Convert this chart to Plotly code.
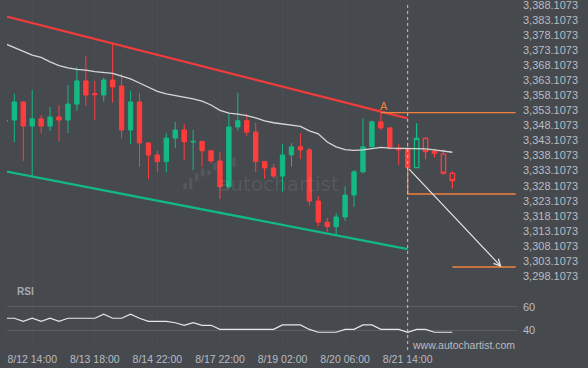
import plotly.graph_objects as go

# ---------------- data ----------------
idx = list(range(51))
opens = [3349.4, 3349.9, 3355.9, 3347.9, 3350.3, 3347.9, 3350.9, 3349.9, 3355.2, 3362.9,
         3358.7, 3358.2, 3363.2, 3361.2, 3346.6, 3355.9, 3342.3, 3338.3, 3336.1, 3343.9,
         3346.6, 3342.6, 3342.8, 3339.7, 3336.3, 3327.8, 3347.6, 3349.7, 3345.9, 3336.1,
         3334.0, 3331.3, 3338.3, 3341.0, 3340.0, 3323.0, 3316.0, 3314.5, 3317.7, 3325.0,
         3332.7, 3341.0, 3349.3, 3347.3, 3340.5, 3340.2, 3334.1, 3343.8, 3339.4, 3338.6,
         3332.2]
highs = [3350.1, 3358.6, 3356.2, 3359.9, 3351.6, 3354.2, 3354.9, 3361.5, 3367.5, 3371.2,
         3362.9, 3364.0, 3375.2, 3365.2, 3359.6, 3358.9, 3342.4, 3339.7, 3345.5, 3349.3,
         3348.6, 3346.6, 3343.0, 3339.8, 3339.3, 3352.1, 3359.0, 3351.9, 3349.0, 3336.2,
         3335.3, 3341.9, 3342.2, 3345.5, 3340.7, 3324.7, 3317.4, 3319.0, 3327.9, 3333.3,
         3350.5, 3349.7, 3352.3, 3347.4, 3341.9, 3342.4, 3348.8, 3344.3, 3340.4, 3340.3,
         3332.9]
lows = [3349.1, 3342.6, 3336.3, 3331.3, 3345.6, 3346.3, 3342.9, 3345.6, 3352.9, 3354.6,
        3349.9, 3356.0, 3355.7, 3343.7, 3341.9, 3334.4, 3330.3, 3332.6, 3332.6, 3340.5,
        3336.5, 3333.3, 3334.4, 3335.5, 3323.7, 3327.0, 3346.4, 3344.7, 3332.6, 3330.4,
        3330.5, 3326.1, 3334.4, 3336.9, 3321.4, 3314.7, 3312.8, 3311.7, 3316.4, 3321.1,
        3332.2, 3340.8, 3346.6, 3340.0, 3335.0, 3334.1, 3334.0, 3336.9, 3337.5, 3331.7,
        3327.2]
closes = [3349.8, 3355.9, 3347.9, 3350.3, 3347.9, 3350.9, 3349.9, 3355.2, 3362.9, 3358.2,
          3358.3, 3363.2, 3360.9, 3346.6, 3355.9, 3342.3, 3338.3, 3336.1, 3343.9, 3346.6,
          3342.7, 3342.8, 3339.7, 3336.3, 3327.8, 3347.6, 3349.7, 3345.9, 3336.1, 3334.0,
          3331.3, 3338.3, 3341.0, 3340.0, 3323.0, 3316.0, 3314.5, 3317.7, 3325.0, 3332.7,
          3341.0, 3349.3, 3347.3, 3340.7, 3340.0, 3334.1, 3343.8, 3339.4, 3338.9, 3332.3,
          3329.8]
ma = [3375.2, 3374.0, 3372.8, 3371.5, 3370.7, 3369.2, 3368.0, 3367.2, 3366.7, 3366.5,
      3366.0, 3365.6, 3365.4, 3364.5, 3363.6, 3362.2, 3360.7, 3359.4, 3358.6, 3358.1,
      3357.4, 3356.9, 3356.2, 3354.9, 3353.1, 3352.2, 3351.9, 3351.4, 3350.6, 3349.6,
      3349.0, 3348.6, 3348.3, 3347.8, 3346.3, 3345.3, 3342.6, 3341.0, 3340.1, 3339.8,
      3340.0, 3340.5, 3340.8, 3340.6, 3340.5, 3340.5, 3340.5, 3340.3, 3340.0, 3339.6,
      3339.2]
rsi = [50.2, 50.2, 47.6, 50.2, 47.6, 50.2, 47.6, 50.2, 50.2, 50.2,
       50.2, 53.6, 50.2, 50.2, 53.6, 50.2, 47.6, 47.6, 47.6, 46.4,
       44.2, 46.4, 44.2, 44.2, 40.8, 40.8, 40.8, 40.8, 40.8, 40.8,
       40.8, 44.5, 44.5, 44.5, 40.7, 38.3, 38.3, 38.3, 40.8, 40.8,
       44.5, 44.5, 40.8, 40.8, 40.8, 38.3, 40.8, 40.8, 38.3, 38.3,
       38.3]
split = 46  # candles from here on are drawn hollow (after the signal)

channel_x = [0, 45]
channel_upper = [3384.36, 3350.48]
channel_lower = [3332.85, 3307.07]

level_x_end = 57.08
level_a_x = 42
level_a = 3352.34
level_mid = 3325.34
level_target_x = 50
level_target = 3301.09
arrow_end_x = 55.5

tick_idx = [3, 10, 17, 24, 31, 38, 45]
tick_text = ["8/12 14:00", "8/13 18:00", "8/14 22:00", "8/17 22:00",
             "8/19 02:00", "8/20 06:00", "8/21 14:00"]
price_ticks = [3298.1073 + 5 * k for k in range(19)]
price_text = ["{:,.4f}".format(v) for v in price_ticks]
rsi_ticks = [40, 60]

# ---------------- style ----------------
BG = "#46494e"
GREEN = "#14b983"
RED = "#ff3d3d"
ORANGE = "#f2803f"
TXT = "#b9bcc1"
FONT = "Liberation Sans, Arial, sans-serif"

fig = go.Figure()

fig.add_trace(go.Candlestick(
    x=idx[:split], open=opens[:split], high=highs[:split], low=lows[:split], close=closes[:split],
    increasing=dict(line=dict(color=GREEN, width=1), fillcolor=GREEN),
    decreasing=dict(line=dict(color=RED, width=1), fillcolor=RED),
    xaxis="x", yaxis="y", showlegend=False, hoverinfo="skip"))

fig.add_trace(go.Candlestick(
    x=idx[split:], open=opens[split:], high=highs[split:], low=lows[split:], close=closes[split:],
    increasing=dict(line=dict(color=GREEN, width=1.3), fillcolor="rgba(0,0,0,0)"),
    decreasing=dict(line=dict(color=RED, width=1.3), fillcolor="rgba(0,0,0,0)"),
    xaxis="x", yaxis="y", showlegend=False, hoverinfo="skip"))

# moving average
fig.add_trace(go.Scatter(x=idx, y=ma, mode="lines", line=dict(color="#d6d6d6", width=1.3),
                         xaxis="x", yaxis="y", showlegend=False, hoverinfo="skip"))

# channel
fig.add_trace(go.Scatter(x=channel_x, y=channel_upper, mode="lines",
                         line=dict(color="#f23c3c", width=2.3), showlegend=False, hoverinfo="skip"))
fig.add_trace(go.Scatter(x=channel_x, y=channel_lower, mode="lines",
                         line=dict(color="#12b886", width=2.3), showlegend=False, hoverinfo="skip"))

# levels
fig.add_trace(go.Scatter(x=[level_a_x, level_x_end], y=[level_a, level_a], mode="lines",
                         line=dict(color=ORANGE, width=1.3), showlegend=False, hoverinfo="skip"))
fig.add_trace(go.Scatter(x=[45, 45, level_x_end], y=[closes[45], level_mid, level_mid], mode="lines",
                         line=dict(color=ORANGE, width=1.3), showlegend=False, hoverinfo="skip"))
fig.add_trace(go.Scatter(x=[level_target_x, level_x_end], y=[level_target, level_target], mode="lines",
                         line=dict(color=ORANGE, width=1.3), showlegend=False, hoverinfo="skip"))

# RSI
fig.add_trace(go.Scatter(x=idx, y=rsi, mode="lines", line=dict(color="#e6e6e6", width=1.2),
                         xaxis="x", yaxis="y2", showlegend=False, hoverinfo="skip"))

PH = 345.0  # plot height px
PW = 511.0


def px(xp):
    return (xp - 7) / PW


def py(yp):
    return (PH - yp) / PH


shapes = [dict(type="line", xref="x", yref="paper", x0=45, x1=45, y0=py(350), y1=py(4),
               line=dict(color="#c4c6c9", width=1, dash="3px,3px"), layer="above")]
# watermark logo bars
for (x0, x1, y0, y1) in [(183.3, 186.7, 183.3, 189.3), (189.0, 192.4, 178.3, 189.3),
                         (195.0, 198.4, 173.3, 180.7), (201.0, 204.4, 168.3, 176.7),
                         (207.3, 210.7, 170.0, 175.0), (213.3, 216.7, 163.0, 170.0),
                         (232.3, 235.7, 157.3, 166.7)]:
    shapes.append(dict(type="rect", xref="paper", yref="paper", x0=px(x0), x1=px(x1),
                       y0=py(y1), y1=py(y0), line=dict(width=0),
                       fillcolor="rgba(255,255,255,0.08)", layer="below"))

annotations = [
    dict(x=arrow_end_x, y=level_target, ax=45, ay=closes[45],
         xref="x", yref="y", axref="x", ayref="y", showarrow=True, arrowhead=5, arrowsize=1.1,
         arrowwidth=1.2, arrowcolor="#e4e4e4", text=""),
    dict(x=42.38, y=3354.4, xref="x", yref="y", text="A", showarrow=False,
         font=dict(color=ORANGE, size=11, family=FONT)),
    dict(x=(278 - 7) / PW, y=py(184), xref="paper", yref="paper", text="autochartist",
         showarrow=False, font=dict(color="rgba(255,255,255,0.09)", size=20, family="DejaVu Sans"),
         xanchor="center", yanchor="middle"),
    dict(x=px(15), y=py(291), xref="paper", yref="paper", text="<b>RSI</b>", showarrow=False,
         xanchor="left", yanchor="middle", font=dict(color="#a6a9ae", size=10, family=FONT)),
    dict(x=px(410), y=py(345), xref="paper", yref="paper", text="www.autochartist.com",
         showarrow=False, xanchor="left", yanchor="middle",
         font=dict(color=TXT, size=10.5, family=FONT)),
]

split_frac = (PH - 283) / PH

fig.update_layout(
    width=588, height=368,
    margin=dict(l=7, r=70, t=0, b=23, autoexpand=False),
    paper_bgcolor=BG, plot_bgcolor=BG,
    font=dict(family=FONT, color=TXT, size=11),
    boxgap=0.3,
    showlegend=False,
    shapes=shapes,
    annotations=annotations,
    xaxis=dict(range=[0.18, 57.34], tickvals=tick_idx, ticktext=tick_text, anchor="y2",
               showgrid=True, gridcolor="#4a4d52", zeroline=False, showline=False, ticks="",
               tickfont=dict(size=10.5, color=TXT), rangeslider=dict(visible=False),
               fixedrange=True, automargin=False, ticklabelstandoff=6,
               ticklabeloverflow="allow"),
    yaxis=dict(domain=[split_frac, 1], range=[3295.78, 3389.768], side="right",
               tickvals=price_ticks, ticktext=price_text, showgrid=False, zeroline=False,
               ticks="", tickfont=dict(size=11, color=TXT), anchor="x", automargin=False,
               ticklabelstandoff=4, ticklabeloverflow="allow"),
    yaxis2=dict(domain=[0, split_frac], range=[27.5, 80.1], side="right", tickvals=rsi_ticks,
                showgrid=True, gridcolor="#5a5d62", gridwidth=1, zeroline=False, ticks="",
                tickfont=dict(size=11, color=TXT), anchor="x", automargin=False,
                ticklabelstandoff=4, ticklabeloverflow="allow"),
)

fig.write_html("out.html", config={"displayModeBar": False, "staticPlot": True},
               post_script="document.body.style.margin='0';document.body.style.overflow='hidden';"
                           "document.body.style.background='" + BG + "';")
